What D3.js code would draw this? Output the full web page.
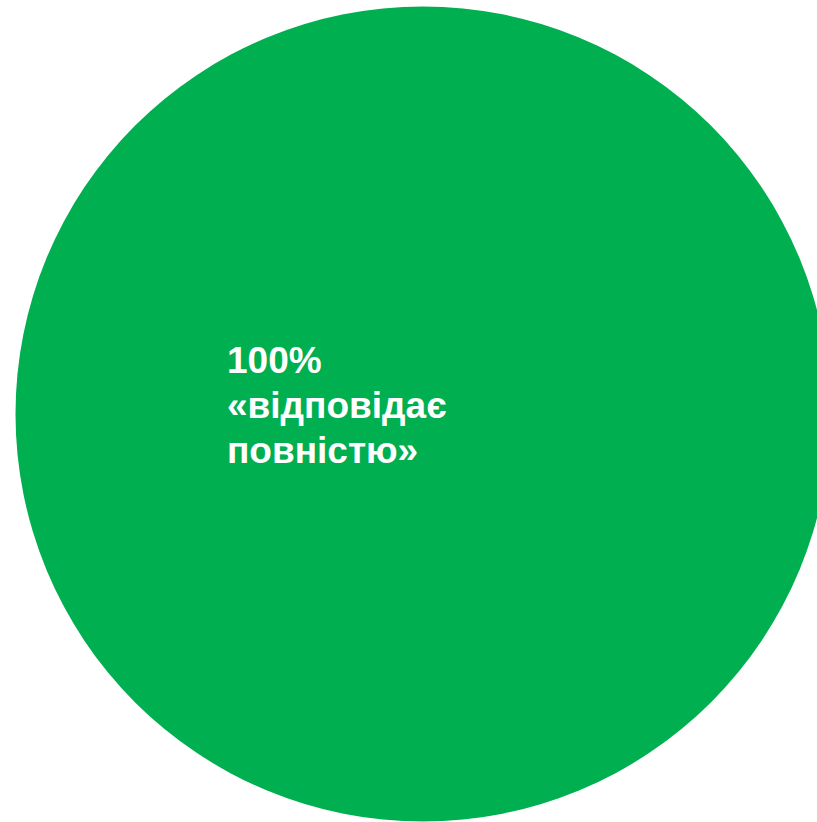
<!DOCTYPE html>
<html><head><meta charset="utf-8">
<script src="https://cdn.jsdelivr.net/npm/d3@7"></script>
<style>html,body{margin:0;padding:0;background:#fff;overflow:hidden}</style>
</head><body>
<svg id="chart" width="817" height="822"></svg>
<script>
const categories = ["відповідає повністю"];
const values = [100];
const labelLines = [["100%", "«відповідає", "повністю»"]];
const colors = ["#00AF50"];

const svg = d3.select("#chart");
const cx = 423, cy = 414, R = 407.5;
const g = svg.append("g").attr("transform", `translate(${cx},${cy})`);
const pie = d3.pie().sort(null).value(d => d)(values);
const arc = d3.arc().innerRadius(0).outerRadius(R);
g.selectAll("path").data(pie).join("path")
  .attr("d", arc).attr("fill", (d, i) => colors[i]);

const t = g.append("text")
  .attr("x", 227 - cx).attr("y", 373 - cy)
  .attr("fill", "#fff")
  .attr("font-family", "Liberation Sans, Arial, sans-serif")
  .attr("font-weight", "bold")
  .attr("font-size", 37);
labelLines[0].forEach((l, i) => {
  t.append("tspan").attr("x", 227 - cx).attr("dy", i === 0 ? 0 : 45).text(l);
});
</script>
</body></html>
